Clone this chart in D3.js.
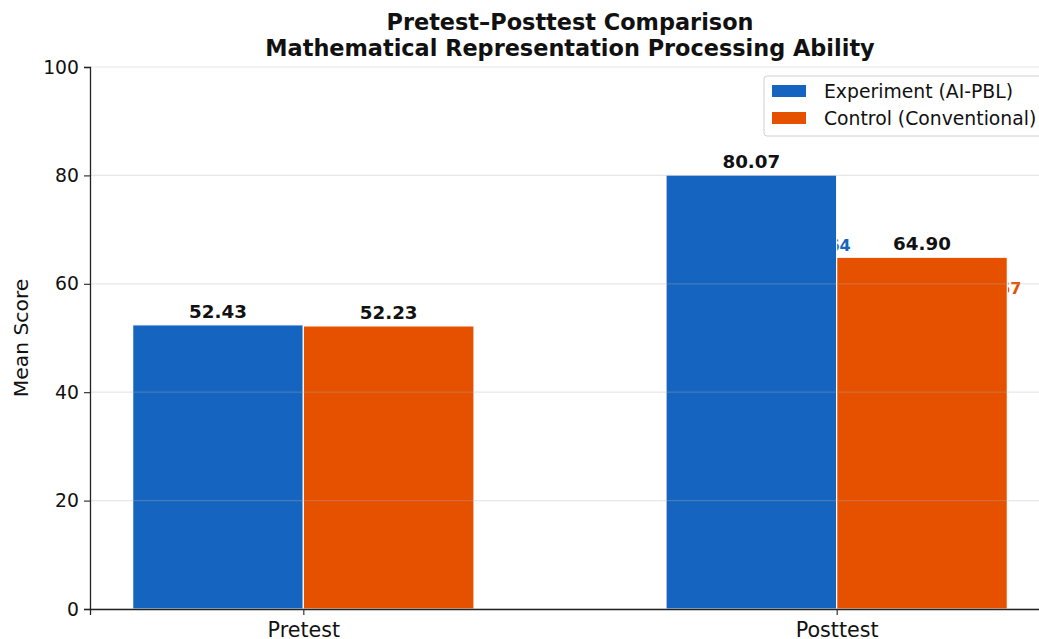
<!DOCTYPE html>
<html>
<head>
<meta charset="utf-8">
<script src="https://cdn.jsdelivr.net/npm/d3@7"></script>
<style>
  html, body { margin: 0; padding: 0; background: #fff; }
  svg { display: block; font-family: "DejaVu Sans", sans-serif; }
</style>
</head>
<body>
<svg id="chart" width="1039" height="639"></svg>
<script>
// Pretest / posttest mean scores per group
const phases = ["Pretest", "Posttest"];
const groups = ["Experiment (AI-PBL)", "Control (Conventional)"];
const experimentScores = [52.43, 80.07];
const controlScores = [52.23, 64.90];
const yTicks = [0, 20, 40, 60, 80, 100];
const colors = ["#1565C0", "#E65100"];

const series = [experimentScores, controlScores];

const svg = d3.select("#chart");
const margin = { left: 90, right: -11, top: 67, bottom: 30 };
const W = 1039, H = 639;
const plotLeft = margin.left, plotRight = W - margin.right;
const plotTop = margin.top, plotBottom = H - margin.bottom;

// linear x in category units, so bars sit at index ± width/2
const x = d3.scaleLinear().domain([-0.4, 1.4]).range([plotLeft, plotRight]);
const y = d3.scaleLinear().domain([0, 100]).range([plotBottom, plotTop]);
const barW = 0.32;

// gain annotations between the two phases (partly covered by bars)
const gainsG = svg.append("g");
series.forEach((vals, gi) => {
  const gain = vals[1] - vals[0];
  const xc = 1 + (gi === 0 ? -barW / 2 : barW / 2);
  gainsG.append("text")
    .attr("x", x(xc + barW / 2) + 14)
    .attr("y", y((vals[0] + vals[1]) / 2 + (gi === 0 ? 0.9 : 0.6)))
    .attr("text-anchor", "end")
    .attr("dominant-baseline", "central")
    .attr("font-size", 16)
    .attr("font-weight", "bold")
    .attr("fill", colors[gi])
    .text("Δ = +" + gain.toFixed(2));
});

// bars
series.forEach((vals, gi) => {
  svg.append("g").selectAll("rect")
    .data(vals)
    .join("rect")
    .attr("x", (d, i) => x(i + (gi === 0 ? -barW : 0)))
    .attr("width", x(barW) - x(0))
    .attr("y", d => y(d))
    .attr("height", d => y(0) - y(d))
    .attr("fill", colors[gi])
    .attr("stroke", "#fff")
    .attr("stroke-width", 1.2);
});

// horizontal grid drawn over bars at low opacity
svg.append("g")
  .selectAll("line")
  .data(yTicks)
  .join("line")
  .attr("x1", plotLeft).attr("x2", plotRight)
  .attr("y1", d => y(d)).attr("y2", d => y(d))
  .attr("stroke", "#b0b0b0")
  .attr("stroke-opacity", 0.3)
  .attr("stroke-width", 1.2);

// value labels
series.forEach((vals, gi) => {
  svg.append("g").selectAll("text")
    .data(vals)
    .join("text")
    .attr("x", (d, i) => x(i + (gi === 0 ? -barW / 2 : barW / 2)))
    .attr("y", d => y(d) - 7)
    .attr("text-anchor", "middle")
    .attr("font-size", 18.3)
    .attr("font-weight", "bold")
    .attr("fill", "#111")
    .text(d => d.toFixed(2));
});

// axes
const yAxis = d3.axisLeft(y).tickValues(yTicks).tickSize(6).tickPadding(5);
const gy = svg.append("g").attr("transform", `translate(${plotLeft},0)`).call(yAxis);
gy.select(".domain").attr("stroke", "#222").attr("stroke-width", 1.3);
gy.selectAll(".tick line").attr("stroke", "#222").attr("stroke-width", 1.1);
gy.selectAll(".tick text").attr("font-size", 18.8).attr("fill", "#111")
  .attr("font-family", "DejaVu Sans, sans-serif");

const xAxis = d3.axisBottom(x).tickValues([0, 1]).tickFormat(i => phases[i]).tickSize(6).tickPadding(7);
const gx = svg.append("g").attr("transform", `translate(0,${plotBottom})`).call(xAxis);
gx.select(".domain").attr("stroke", "#222").attr("stroke-width", 1.3);
gx.selectAll(".tick line").attr("stroke", "#222").attr("stroke-width", 1.1);
gx.selectAll(".tick text").attr("font-size", 20.7).attr("fill", "#111")
  .attr("font-family", "DejaVu Sans, sans-serif");

// y label
svg.append("text")
  .attr("transform", `translate(28,${(plotTop + plotBottom) / 2}) rotate(-90)`)
  .attr("text-anchor", "middle")
  .attr("font-size", 20.3)
  .attr("fill", "#111")
  .text("Mean Score");

// title
const title = svg.append("text")
  .attr("x", (plotLeft + plotRight) / 2)
  .attr("text-anchor", "middle")
  .attr("font-size", 22.4)
  .attr("font-weight", "bold")
  .attr("fill", "#111");
title.append("tspan").attr("x", (plotLeft + plotRight) / 2).attr("y", 30).text("Pretest–Posttest Comparison");
title.append("tspan").attr("x", (plotLeft + plotRight) / 2).attr("y", 56).text("Mathematical Representation Processing Ability");

// legend
const lg = svg.append("g").attr("transform", "translate(764,76)");
lg.append("rect").attr("width", 300).attr("height", 60).attr("rx", 3)
  .attr("fill", "#fff").attr("fill-opacity", 0.8)
  .attr("stroke", "#d0d0d0");
groups.forEach((g, i) => {
  lg.append("rect").attr("x", 8).attr("y", 9 + i * 27).attr("width", 34).attr("height", 12)
    .attr("fill", colors[i]);
  lg.append("text").attr("x", 60).attr("y", 15 + i * 27)
    .attr("dominant-baseline", "central")
    .attr("font-size", 18.8).attr("fill", "#111").text(g);
});
</script>
</body>
</html>
